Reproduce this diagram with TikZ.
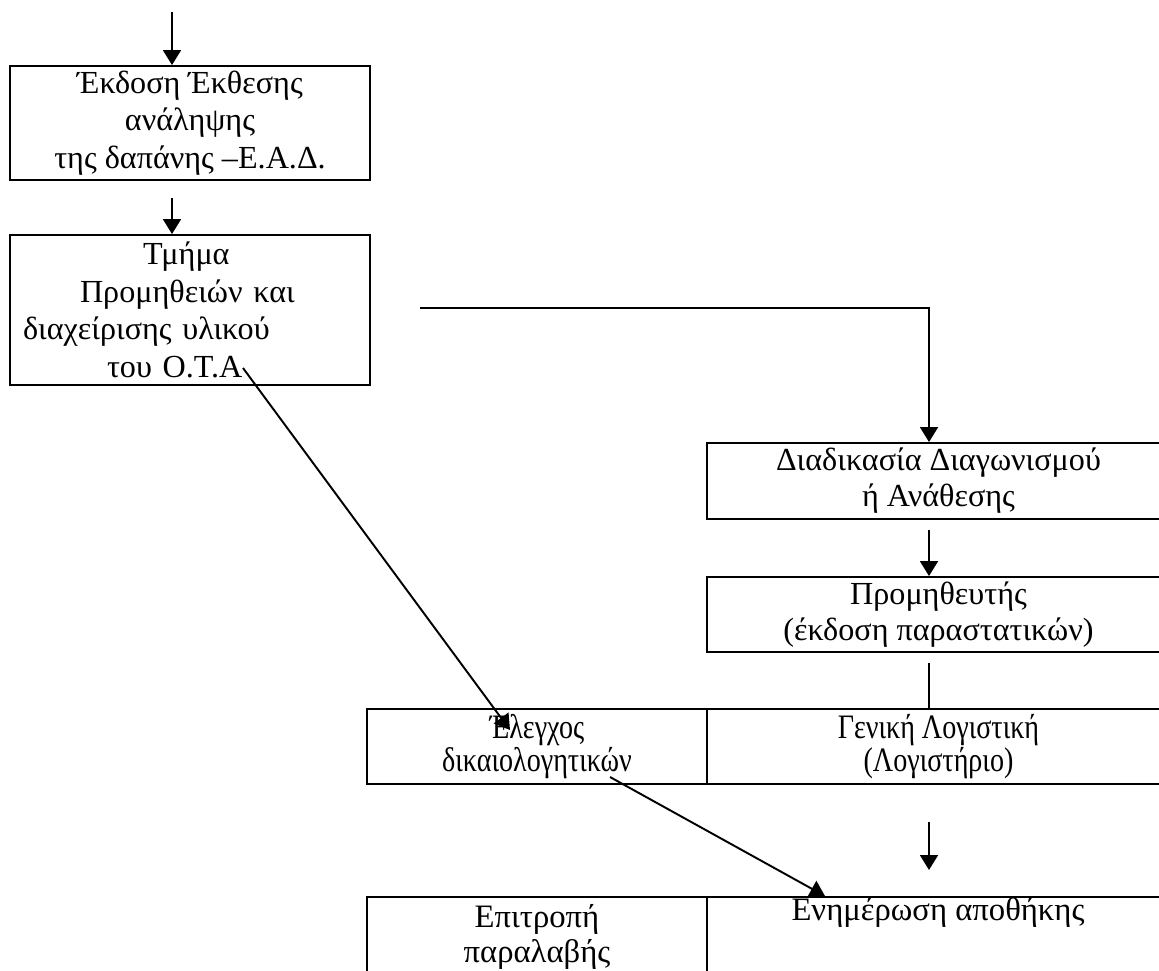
\documentclass[tikz,border=0pt]{standalone}
\usepackage{fontspec}
\setmainfont{Liberation Serif}
\newfontfamily\fcond[FakeStretch=0.82]{Liberation Serif}
\usetikzlibrary{arrows.meta}
\begin{document}
\begin{tikzpicture}[x=0.02cm,y=-0.02cm,
  box/.style={draw, rectangle, line width=1.1pt, inner sep=0pt},
  topfont/.style={font=\fontsize{18.3}{21.5}\selectfont},
  rightfont/.style={font=\fontsize{18.3}{20.4}\selectfont},
  rowfont/.style={font=\fcond\fontsize{19.5}{18.7}\selectfont},
  botfont/.style={font=\fontsize{18.6}{20}\selectfont},
  conn/.style={line width=1.1pt},
  arr/.style={conn, -{Triangle[length=0.3cm,width=0.36cm]}}]
\useasboundingbox (0,0) rectangle (1159,970);
\clip (0,0) rectangle (1159,970);
% boxes
\node[box, topfont, minimum width=7.2cm, minimum height=2.28cm, align=center] (ekd) at (190,123)
  {Έκδοση Έκθεσης\\ανάληψης\\της δαπάνης –Ε.Α.Δ.};
\node[box, topfont, minimum width=7.2cm, minimum height=3cm, text width=7cm, align=left] (tm) at (190,310)
  {\hspace*{2.56cm}Τμήμα\\\hspace*{1.3cm}Προμηθειών και\\\hspace*{0.16cm}διαχείρισης υλικού\\\hspace*{1.84cm}του Ο.Τ.Α};
\node[box, rightfont, minimum width=9.26cm, minimum height=1.52cm, align=center] (diad) at (938.5,481)
  {Διαδικασία Διαγωνισμού\\ή Ανάθεσης};
\node[box, rightfont, minimum width=9.26cm, minimum height=1.5cm, align=center] (prom) at (938.5,614.5)
  {Προμηθευτής\\(έκδοση παραστατικών)};
\node[box, rowfont, minimum width=6.8cm, minimum height=1.5cm, align=center] (eleg) at (537,746.5)
  {Έλεγχος\\δικαιολογητικών};
\node[box, rowfont, minimum width=9.26cm, minimum height=1.5cm, align=center] (gen) at (938.5,746.5)
  {Γενική Λογιστική\\(Λογιστήριο)};
\node[box, minimum width=6.8cm, minimum height=2.06cm] (epi) at (537,948.5) {};
\node[box, minimum width=9.26cm, minimum height=2.06cm] (enim) at (938.5,948.5) {};
\node[botfont, anchor=base] (epit1) at (537,927) {Επιτροπή};
\node[botfont, anchor=base] (epit2) at (537,962) {παραλαβής};
\node[botfont, anchor=base] (enimt) at (938,920) {Ενημέρωση αποθήκης};
% connectors
\coordinate (top) at (172,12);
\draw[arr] (top) -- (top |- ekd.north);
\coordinate (a2) at (172,198);
\draw[arr] (a2) -- (a2 |- tm.north);
\coordinate (h0) at (420,308);
\coordinate (h1) at (929,308);
\draw[arr] (h0) -- (h1) -- (h1 |- diad.north);
\coordinate (a3) at (929,530);
\draw[arr] (a3) -- (a3 |- prom.north);
\coordinate (a4) at (929,663);
\draw[conn] (a4) -- (a4 |- gen.north);
\coordinate (a5) at (929,822);
\coordinate (a5e) at (929,870);
\draw[arr] (a5) -- (a5e);
\coordinate (d1) at (243,368);
\coordinate (d1e) at (510,730);
\draw[arr] (d1) -- (d1e);
\coordinate (d2) at (610,777);
\coordinate (d2x) at (825,0);
\draw[arr] (d2) -- (d2x |- enim.north);
\end{tikzpicture}
\end{document}
